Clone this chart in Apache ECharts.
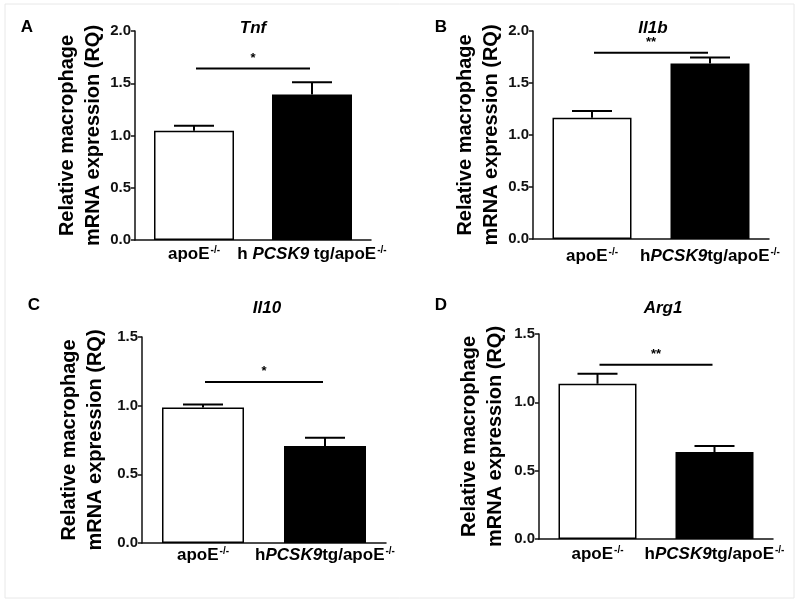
<!DOCTYPE html>
<html>
<head>
<meta charset="utf-8">
<script src="https://cdn.jsdelivr.net/npm/echarts@6/dist/echarts.min.js"></script>
<style>
  html, body { margin: 0; padding: 0; background: #fff; }
  #chart { width: 800px; height: 603px; }
</style>
</head>
<body>
<div id="chart"></div>
<script>
    // panel letters and gene names
    const panelLetters = ['A', 'B', 'C', 'D'];
    const genes = ['Tnf', 'Il1b', 'Il10', 'Arg1'];

    // group (category) labels, panel A has spaces around PCSK9
    const groupsA = ['apoE-/-', 'h PCSK9 tg/apoE-/-'];
    const groups = ['apoE-/-', 'hPCSK9tg/apoE-/-'];

    // means and SEM (upper) per panel: [apoE-/-, hPCSK9tg/apoE-/-]
    const meanTnf = [1.045, 1.393];
    const errTnf = [0.048, 0.117];
    const meanIl1b = [1.166, 1.687];
    const errIl1b = [0.064, 0.058];
    const meanIl10 = [0.987, 0.706];
    const errIl10 = [0.022, 0.060];
    const meanArg1 = [1.136, 0.636];
    const errArg1 = [0.073, 0.044];

    // significance bar heights and stars
    const sigY = [1.64, 1.79, 1.173, 1.275];
    const sigStars = ['*', '**', '*', '**'];

    // y axis ranges
    const yMax = [2.0, 2.0, 1.5, 1.5];
    const yInterval = 0.5;

    const means = [meanTnf, meanIl1b, meanIl10, meanArg1];
    const errs = [errTnf, errIl1b, errIl10, errArg1];
    const cats = [groupsA, groups, groups, groups];

    const FONT = 'Liberation Sans, Arial, sans-serif';

    // layout of each panel (pixels)
    const layout = [
        { left: 135, top: 31, width: 236, height: 209, gap: 26, bar: 80, catMargin: 5, letter: [27, 27], title: [253, 28] },
        { left: 533, top: 31, width: 236, height: 208, gap: 26, bar: 79, catMargin: 8, letter: [441, 27], title: [653, 28] },
        { left: 142, top: 337, width: 244, height: 206, gap: 34, bar: 82, catMargin: 3, letter: [34, 305], title: [267, 308] },
        { left: 539, top: 334, width: 234, height: 205, gap: 31, bar: 78, catMargin: 6, letter: [441, 305], title: [663, 308] },
    ];

    const fmtCat = s => s.replace('PCSK9', '{i|PCSK9}').replace(/-\/-/g, '{s|-/-}');

    const chart = echarts.init(document.getElementById('chart'));

    const grid = [], xAxis = [], yAxis = [], series = [], graphic = [];

    layout.forEach((l, k) => {
        grid.push({ left: l.left, top: l.top, width: l.width, height: l.height });
        xAxis.push({
            type: 'category',
            gridIndex: k,
            data: cats[k],
            axisLine: { lineStyle: { color: '#111', width: 1.5 } },
            axisTick: { alignWithLabel: true, length: 5, lineStyle: { color: '#111', width: 1.5 } },
            axisLabel: {
                interval: 0,
                hideOverlap: false,
                margin: l.catMargin,
                color: '#000',
                fontSize: 17,
                fontWeight: 'bold',
                fontFamily: FONT,
                formatter: fmtCat,
                rich: {
                    i: { fontSize: 17, fontWeight: 'bold', fontStyle: 'italic', fontFamily: FONT, color: '#000' },
                    s: { fontSize: 10, fontWeight: 'bold', fontFamily: FONT, color: '#000', verticalAlign: 'top', padding: [0, 0, 8, 1] }
                }
            }
        });
        yAxis.push({
            type: 'value',
            gridIndex: k,
            min: 0,
            max: yMax[k],
            interval: yInterval,
            name: 'Relative macrophage\nmRNA expression (RQ)',
            nameLocation: 'middle',
            nameRotate: 90,
            nameGap: l.gap,
            nameTextStyle: { fontSize: 20, fontWeight: 'bold', lineHeight: 26, color: '#000', fontFamily: FONT },
            splitLine: { show: false },
            axisLine: { show: true, lineStyle: { color: '#111', width: 1.5 } },
            axisTick: { show: true, length: 4, lineStyle: { color: '#111', width: 1.5 } },
            axisLabel: {
                margin: 4,
                color: '#111',
                fontSize: 15,
                fontWeight: 'bold',
                fontFamily: FONT,
                formatter: v => v.toFixed(1)
            }
        });

        series.push({
            type: 'bar',
            xAxisIndex: k,
            yAxisIndex: k,
            barWidth: l.bar,
            data: means[k].map((v, i) => ({
                value: v,
                itemStyle: { color: i === 0 ? '#fff' : '#000', borderColor: '#000', borderWidth: 1.5 }
            })),
            z: 2
        });

        // error bars (upper only)
        series.push({
            type: 'custom',
            xAxisIndex: k,
            yAxisIndex: k,
            z: 3,
            data: means[k].map((m, i) => [i, m, m + errs[k][i]]),
            renderItem: (params, api) => {
                const base = api.coord([api.value(0), api.value(1)]);
                const top = api.coord([api.value(0), api.value(2)]);
                return {
                    type: 'group',
                    children: [
                        { type: 'line', shape: { x1: base[0], y1: base[1], x2: top[0], y2: top[1] }, style: { stroke: '#000', lineWidth: 2 } },
                        { type: 'line', shape: { x1: top[0] - 20, y1: top[1], x2: top[0] + 20, y2: top[1] }, style: { stroke: '#000', lineWidth: 2 } }
                    ]
                };
            }
        });

        // significance bar
        series.push({
            type: 'custom',
            xAxisIndex: k,
            yAxisIndex: k,
            z: 3,
            data: [[0, 1, sigY[k]]],
            renderItem: (params, api) => {
                const a = api.coord([api.value(0), api.value(2)]);
                const b = api.coord([api.value(1), api.value(2)]);
                return {
                    type: 'group',
                    children: [
                        { type: 'line', shape: { x1: a[0] + 2, y1: a[1], x2: b[0] - 2, y2: b[1] }, style: { stroke: '#000', lineWidth: 2 } },
                        { type: 'text', style: { text: sigStars[k], x: (a[0] + b[0]) / 2, y: a[1] - 4, fill: '#000', font: 'bold 13px ' + FONT, align: 'center', verticalAlign: 'bottom' } }
                    ]
                };
            }
        });

        graphic.push({
            type: 'text', x: l.letter[0], y: l.letter[1],
            style: { text: panelLetters[k], fill: '#000', font: 'bold 17px ' + FONT, align: 'center', verticalAlign: 'middle' }
        });
        graphic.push({
            type: 'text', x: l.title[0], y: l.title[1],
            style: { text: genes[k], fill: '#000', font: 'italic bold 17px ' + FONT, align: 'center', verticalAlign: 'middle' }
        });
    });

    // faint frame around the figure
    graphic.push({
        type: 'rect', shape: { x: 5, y: 4, width: 789, height: 594 },
        style: { fill: 'none', stroke: '#e8e8e8', lineWidth: 1 }, z: -1
    });

    chart.setOption({
        backgroundColor: '#fff',
        animation: false,
        textStyle: { fontFamily: FONT },
        grid: grid,
        xAxis: xAxis,
        yAxis: yAxis,
        series: series,
        graphic: graphic
    });
</script>
</body>
</html>
